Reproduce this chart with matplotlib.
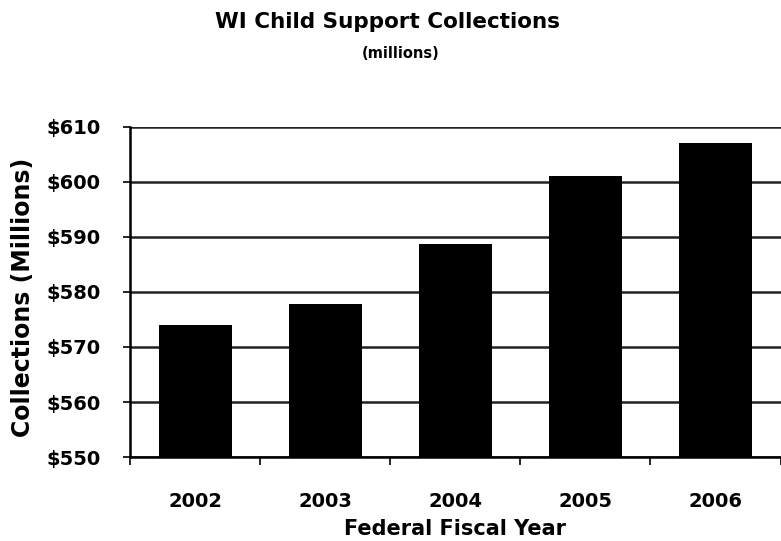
import matplotlib.pyplot as plt
import numpy as np

years = ['2002', '2003', '2004', '2005', '2006']
collections = [574.0, 577.8, 588.7, 601.1, 607.1]

plt.rcParams['font.family'] = ['DejaVu Sans']
plt.rcParams['font.weight'] = 'bold'

fig = plt.figure(figsize=(7.81, 5.41), dpi=100)
ax = fig.add_axes([0.1665, 0.155, 0.833, 0.611])

x = np.arange(len(years))
ax.bar(x, collections, width=0.56, color='black', zorder=3)

ax.set_ylim(550, 610)
ax.set_xlim(-0.5, 4.5)
ax.set_yticks(range(550, 611, 10))
ax.set_yticklabels(['$%d' % v for v in range(550, 611, 10)], fontsize=14, fontweight='bold')
ax.yaxis.grid(True, color='#222222', linewidth=1.8, zorder=0)
ax.set_axisbelow(True)

ax.set_xticks(x)
ax.set_xticklabels(years, fontsize=14, fontweight='bold')
# tick marks sit between the bars
ax.set_xticks(np.arange(-0.5, 4.6, 1), minor=True)
ax.tick_params(axis='x', which='major', length=0, pad=25)
ax.tick_params(axis='x', which='minor', length=6, width=1.2, direction='out')
ax.tick_params(axis='y', length=5, width=1.2, pad=16)

for s in ['top', 'right']:
    ax.spines[s].set_visible(False)
ax.spines['left'].set_linewidth(1.8)
ax.spines['bottom'].set_linewidth(1.8)

ax.set_xlabel('Federal Fiscal Year', fontsize=15, fontweight='bold', labelpad=6)
ax.set_ylabel('Collections (Millions)', fontsize=17, fontweight='bold')
ax.yaxis.set_label_coords(-0.146, 0.484)

fig.text(0.496, 0.96, 'WI Child Support Collections', ha='center', va='center',
         fontsize=15.5, fontweight='bold')
fig.text(0.513, 0.902, '(millions)', ha='center', va='center', fontsize=10.5, fontweight='bold')

fig.savefig('out.png', dpi=100)
